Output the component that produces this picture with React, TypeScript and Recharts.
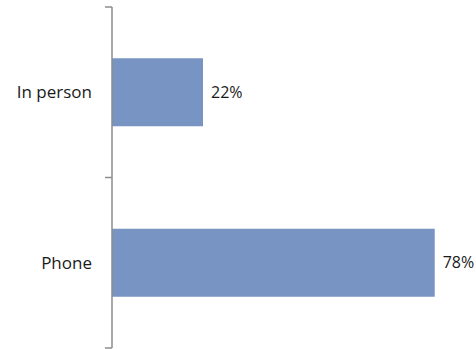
import { BarChart, Bar, XAxis, YAxis, LabelList } from 'recharts';

const categories = ['In person', 'Phone'];
const shares = [22, 78];

const data = categories.map((name, i) => ({ name, value: shares[i] }));

const BAR_COLOR = '#7794c2';
const AXIS_COLOR = '#8c8c8c';
const TEXT_COLOR = '#1a1a1a';
const FONT = '"Open Sans", "Noto Sans", sans-serif';

// category label plus the small tick marks on the band boundaries
function CategoryTick(props: any) {
  const { x, y, payload, index, visibleTicksCount } = props;
  const half = payload.offset || 0;
  const isLast = index === visibleTicksCount - 1;
  return (
    <g>
      <line x1={x - 7} x2={x} y1={y - half} y2={y - half} stroke={AXIS_COLOR} strokeWidth={1.5} />
      {isLast && (
        <line x1={x - 7} x2={x} y1={y + half} y2={y + half} stroke={AXIS_COLOR} strokeWidth={1.5} />
      )}
      <text
        x={x - 20}
        y={y}
        dy={6}
        textAnchor="end"
        fill={TEXT_COLOR}
        fontSize={17}
        fontFamily={FONT}
      >
        {payload.value}
      </text>
    </g>
  );
}

export default function App() {
  return (
    <div style={{ position: 'absolute', left: 0, top: 0, background: '#fff' }}>
      <BarChart
        width={476}
        height={349}
        data={data}
        layout="vertical"
        margin={{ top: 7, right: 33, bottom: 1, left: 0 }}
        barCategoryGap="30%"
      >
        <XAxis type="number" domain={[0, 80]} hide />
        <YAxis
          type="category"
          dataKey="name"
          width={112}
          axisLine={{ stroke: AXIS_COLOR, strokeWidth: 1.5 }}
          tickLine={false}
          tickSize={0}
          tickMargin={0}
          tick={<CategoryTick />}
        />
        <Bar dataKey="value" fill={BAR_COLOR} isAnimationActive={false}>
          <LabelList
            dataKey="value"
            position="right"
            offset={8}
            formatter={(v: number) => `${v}%`}
            style={{ fill: TEXT_COLOR, fontSize: 16, fontFamily: FONT }}
          />
        </Bar>
      </BarChart>
    </div>
  );
}
